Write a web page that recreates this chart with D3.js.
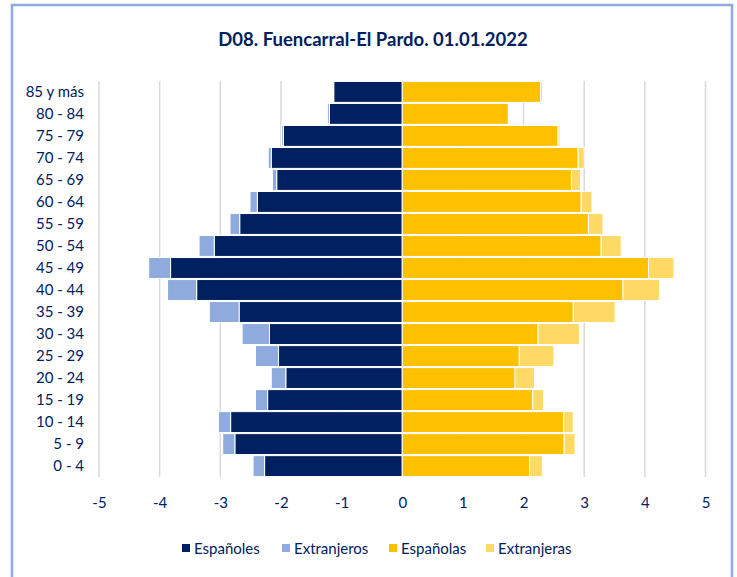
<!DOCTYPE html>
<html><head><meta charset="utf-8">
<script src="https://cdn.jsdelivr.net/npm/d3@7"></script>
<style>
html,body{margin:0;padding:0;background:#fff;}
svg{display:block;font-family:Lato,"Open Sans",sans-serif;}
</style></head>
<body>
<svg id="chart" width="737" height="577"></svg>
<script>
const title = "D08. Fuencarral-El Pardo. 01.01.2022";
const ageGroups = ["85 y más","80 - 84","75 - 79","70 - 74","65 - 69","60 - 64","55 - 59","50 - 54","45 - 49","40 - 44","35 - 39","30 - 34","25 - 29","20 - 24","15 - 19","10 - 14","5 - 9","0 - 4"];
const espanoles   = [-1.13,-1.20,-1.96,-2.16,-2.07,-2.39,-2.68,-3.10,-3.82,-3.39,-2.69,-2.19,-2.04,-1.92,-2.22,-2.83,-2.76,-2.27];
const extranjeros = [-0.01,-0.03,-0.03,-0.05,-0.07,-0.12,-0.16,-0.25,-0.36,-0.48,-0.49,-0.45,-0.38,-0.24,-0.20,-0.20,-0.20,-0.19];
const espanolas   = [2.28,1.75,2.57,2.90,2.79,2.95,3.07,3.28,4.06,3.64,2.82,2.24,1.93,1.86,2.15,2.66,2.67,2.10];
const extranjeras = [0.03,0.01,0.03,0.10,0.15,0.18,0.24,0.33,0.42,0.60,0.69,0.68,0.57,0.32,0.18,0.16,0.18,0.21];
const xTicks = [-5,-4,-3,-2,-1,0,1,2,3,4,5];
const seriesNames = ["Españoles","Extranjeros","Españolas","Extranjeras"];
const seriesColors = ["#002060","#8faadc","#ffc000","#ffd966"];

const svg = d3.select("#chart");
const textColor = "#002060";

// outer border
svg.append("rect").attr("x",12).attr("y",5).attr("width",720).attr("height",580)
  .attr("fill","#fff").attr("stroke","#8faadc").attr("stroke-width",2.5);

svg.append("text").attr("x",373).attr("y",46).attr("text-anchor","middle")
  .attr("font-size",18.5).attr("font-weight","bold").attr("fill",textColor).text(title);

const x = d3.scaleLinear().domain([-5,5]).range([99,705.5]);
const y = d3.scaleBand().domain(ageGroups).range([81,477]).paddingInner(0.05).paddingOuter(0.02);

// gridlines
svg.append("g").selectAll("line").data(xTicks.filter(d=>d!==0)).join("line")
  .attr("x1",d=>x(d)).attr("x2",d=>x(d)).attr("y1",81).attr("y2",477)
  .attr("stroke","#d9d9d9").attr("stroke-width",1.5);

// build stacked rows
const rows = ageGroups.map((g,i)=>({g, segs:[
  {x0:0, x1:espanoles[i], c:0},
  {x0:espanoles[i], x1:espanoles[i]+extranjeros[i], c:1},
  {x0:0, x1:espanolas[i], c:2},
  {x0:espanolas[i], x1:espanolas[i]+extranjeras[i], c:3}
]}));

const gb = svg.append("g");
rows.forEach(r=>{
  gb.selectAll(null).data(r.segs).join("rect")
    .attr("x",d=>x(Math.min(d.x0,d.x1)))
    .attr("width",d=>Math.abs(x(d.x1)-x(d.x0)))
    .attr("y",y(r.g)).attr("height",y.bandwidth())
    .attr("fill",d=>seriesColors[d.c])
    .attr("stroke","#fff").attr("stroke-width",1);
});

// y labels
const yAxis = d3.axisLeft(y).tickSize(0).tickPadding(0);
const ya = svg.append("g").attr("transform","translate(84,0)").call(yAxis);
ya.select(".domain").remove();
ya.selectAll("text").attr("font-size",15).attr("fill",textColor).attr("font-family","Lato,sans-serif");

// x axis labels
const xAxis = d3.axisBottom(x).tickValues(xTicks).tickSize(0).tickPadding(0).tickFormat(d=>String(d));
const xa = svg.append("g").attr("transform","translate(0,497)").call(xAxis);
xa.select(".domain").remove();
xa.selectAll("text").attr("font-size",15).attr("fill",textColor).attr("font-family","Lato,sans-serif");

// legend
const legX = [182,282,389,486];
const lg = svg.append("g");
seriesNames.forEach((n,i)=>{
  lg.append("rect").attr("x",legX[i]).attr("y",544).attr("width",8).attr("height",8).attr("fill",seriesColors[i]);
  lg.append("text").attr("x",legX[i]+12).attr("y",553.5).attr("font-size",15).attr("fill",textColor).text(n);
});
</script>
</body></html>
